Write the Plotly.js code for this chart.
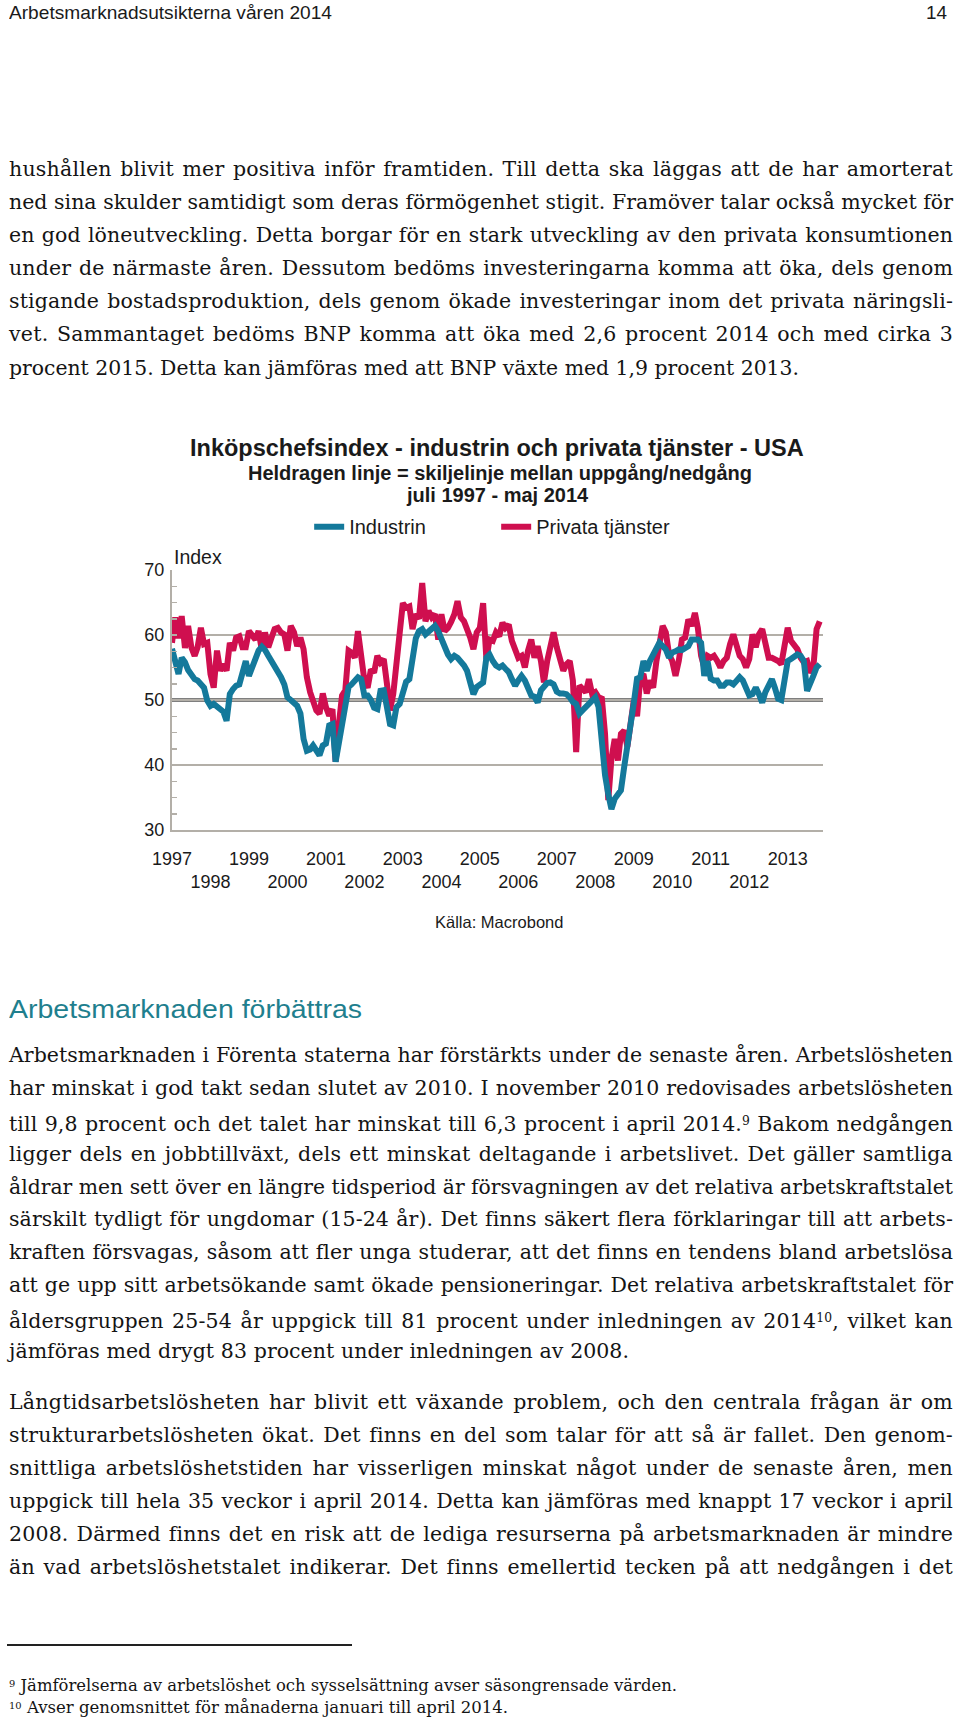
<!DOCTYPE html>
<html><head><meta charset="utf-8">
<script src="https://cdn.plot.ly/plotly-3.0.1.min.js"></script>
<style>
html,body{margin:0;padding:0;background:#fff}
body{width:960px;height:1717px;position:relative;overflow:hidden}
#chart{position:absolute;left:0;top:0;width:960px;height:1717px}
.ln{position:absolute;white-space:nowrap;color:#141414;transform-origin:0 50%;display:inline-block}
.sup{font-size:0.6em;vertical-align:0.45em}
#rule{position:absolute;left:7px;top:1644px;width:345px;height:1.5px;background:#222}
</style></head><body>
<div id="chart"></div>
<div id="txt"></div>
<div id="rule"></div>
<script>
// ---------------- chart data ----------------
const firstMonth = '1997-07';
const industrin = [
 57.9,56.0,54.0,56.5,55.8,54.6,
 53.8,53.2,53.0,52.5,51.9,49.9,49.1,49.4,49.0,48.6,48.2,46.8,
 50.9,51.7,52.2,52.4,54.0,56.0,53.7,55.0,56.8,57.6,58.2,57.7,
 56.8,56.0,55.0,54.2,53.5,52.4,50.4,50.0,49.6,49.1,47.9,44.0,
 42.2,42.4,43.0,42.3,41.5,43.0,43.3,46.1,46.3,40.5,43.5,47.0,
 49.5,52.0,52.4,53.0,53.5,53.2,50.7,50.7,50.0,48.8,48.6,51.4,
 51.5,48.8,46.3,46.1,48.9,49.4,51.5,52.8,53.2,56.3,59.5,60.6,
 60.9,60.1,60.6,60.9,61.4,60.6,59.3,58.1,57.0,56.3,56.8,56.5,
 56.0,55.3,54.5,52.8,50.9,52.0,52.5,52.7,56.5,57.0,56.0,55.3,
 55.0,55.3,54.8,54.3,53.2,52.2,53.0,53.7,53.0,51.8,50.7,50.5,
 49.6,51.5,52.2,52.6,52.7,52.4,51.3,51.0,51.0,50.9,50.4,49.7,
 49.4,47.9,48.4,48.9,49.1,49.6,50.4,48.9,43.3,38.5,35.5,33.2,
 34.8,35.5,36.1,39.7,42.5,45.5,49.5,53.3,53.5,56.0,54.5,56.0,
 57.0,57.5,58.8,58.3,57.8,56.5,57.3,57.5,57.8,57.7,58.0,58.3,
 59.3,59.3,59.3,58.8,53.7,56.0,53.3,53.0,53.0,52.2,52.2,52.7,
 52.7,52.4,53.0,53.5,53.0,51.7,50.7,50.9,51.9,50.9,49.6,51.2,
 52.2,53.2,51.9,50.2,50.0,53.0,56.0,56.3,56.8,57.0,56.8,56.0,
 51.4,53.0,53.7,55.0,55.5
];
const privataTjanster = [
 58.8,62.7,59.5,62.9,58.0,61.4,
 58.1,56.8,58.1,61.1,58.6,58.8,54.0,51.9,57.6,54.5,55.5,54.5,
 58.8,57.6,59.6,59.8,58.1,58.1,60.6,60.1,59.3,60.6,57.6,60.4,
 58.1,59.6,60.9,61.1,60.4,60.1,57.6,61.4,60.4,58.3,59.6,57.8,
 53.5,51.2,49.6,48.4,47.9,51.0,48.9,47.6,48.6,40.5,46.3,50.7,
 51.5,57.6,57.3,56.5,60.6,55.8,53.0,51.9,54.7,54.2,56.8,55.8,
 56.3,52.4,48.4,50.9,56.0,61.1,64.9,64.2,64.4,60.9,63.2,62.5,
 68.0,62.1,63.7,62.7,63.2,59.3,63.2,60.6,61.1,62.0,63.2,65.2,
 62.7,62.1,61.1,59.6,57.8,60.4,61.1,64.9,56.3,59.3,59.1,60.4,
 59.8,61.9,61.1,61.6,59.1,57.6,56.5,56.8,55.0,57.6,59.3,56.5,
 58.3,56.0,52.7,56.0,58.3,60.4,58.1,56.0,54.5,55.5,56.0,53.0,
 42.0,52.2,51.7,51.2,53.2,50.9,51.2,50.4,50.2,44.8,34.6,41.0,
 44.0,40.7,44.8,45.3,42.8,47.3,49.9,47.5,53.5,54.0,51.0,53.0,
 51.9,56.0,58.6,61.4,60.4,57.0,56.0,53.7,56.0,59.3,59.6,62.4,
 61.4,63.4,61.1,56.8,55.0,56.8,56.5,56.8,56.0,55.0,56.0,56.5,
 58.6,60.1,58.5,56.8,56.3,55.0,56.3,60.1,58.1,60.1,60.9,59.1,
 56.5,56.5,56.3,56.0,55.5,58.6,61.1,59.1,58.6,57.8,56.5,55.8,
 56.0,54.2,55.0,60.9,62.1
];
const tickYears = [1997,1998,1999,2000,2001,2002,2003,2004,2005,2006,2007,2008,2009,2010,2011,2012,2013];
const yTicks = [30,40,50,60,70];
const dividerLevel = 50;
const seriesNames = ['Industrin','Privata tjänster'];

// ---------------- page text ----------------
const headerText = 'Arbetsmarknadsutsikterna våren 2014';
const pageNumber = '14';
const para1 = [
 'hushållen blivit mer positiva inför framtiden. Till detta ska läggas att de har amorterat',
 'ned sina skulder samtidigt som deras förmögenhet stigit. Framöver talar också mycket för',
 'en god löneutveckling. Detta borgar för en stark utveckling av den privata konsumtionen',
 'under de närmaste åren. Dessutom bedöms investeringarna komma att öka, dels genom',
 'stigande bostadsproduktion, dels genom ökade investeringar inom det privata näringsli-',
 'vet. Sammantaget bedöms BNP komma att öka med 2,6 procent 2014 och med cirka 3',
 'procent 2015. Detta kan jämföras med att BNP växte med 1,9 procent 2013.'
];
const heading2 = 'Arbetsmarknaden förbättras';
const para2 = [
 'Arbetsmarknaden i Förenta staterna har förstärkts under de senaste åren. Arbetslösheten',
 'har minskat i god takt sedan slutet av 2010. I november 2010 redovisades arbetslösheten',
 'till 9,8 procent och det talet har minskat till 6,3 procent i april 2014.<span class="sup">9</span> Bakom nedgången',
 'ligger dels en jobbtillväxt, dels ett minskat deltagande i arbetslivet. Det gäller samtliga',
 'åldrar men sett över en längre tidsperiod är försvagningen av det relativa arbetskraftstalet',
 'särskilt tydligt för ungdomar (15-24 år). Det finns säkert flera förklaringar till att arbets-',
 'kraften försvagas, såsom att fler unga studerar, att det finns en tendens bland arbetslösa',
 'att ge upp sitt arbetsökande samt ökade pensioneringar. Det relativa arbetskraftstalet för',
 'åldersgruppen 25-54 år uppgick till 81 procent under inledningen av 2014<span class="sup">10</span>, vilket kan',
 'jämföras med drygt 83 procent under inledningen av 2008.'
];
const para3 = [
 'Långtidsarbetslösheten har blivit ett växande problem, och den centrala frågan är om',
 'strukturarbetslösheten ökat. Det finns en del som talar för att så är fallet. Den genom-',
 'snittliga arbetslöshetstiden har visserligen minskat något under de senaste åren, men',
 'uppgick till hela 35 veckor i april 2014. Detta kan jämföras med knappt 17 veckor i april',
 '2008. Därmed finns det en risk att de lediga resurserna på arbetsmarknaden är mindre',
 'än vad arbetslöshetstalet indikerar. Det finns emellertid tecken på att nedgången i det'
];
const footnotes = [
 '<span class="sup">9</span> Jämförelserna av arbetslöshet och sysselsättning avser säsongrensade värden.',
 '<span class="sup">10</span> Avser genomsnittet för månaderna januari till april 2014.'
];

// ---------------- build chart ----------------
const dates = industrin.map((_, i) => {
  const m = 6 + i;
  const y = 1997 + Math.floor(m / 12);
  return y + '-' + String(m % 12 + 1).padStart(2, '0') + '-01';
});
const PL = 171.7, PR = 823.3, PT = 569.5, PB = 830.5;
const W = 960, H = 1717;
const xp = px => (px - PL) / (PR - PL);
const yp = py => (PB - py) / (PB - PT);
const FONT = 'Liberation Sans, Arial, Helvetica, sans-serif';
const GRID = '#b3afa8';
const BLUE = '#14799b', RED = '#cf0f4f';

const traces = [
  {x: dates, y: privataTjanster, name: seriesNames[1], type: 'scatter', mode: 'lines',
   line: {color: RED, width: 6}, legendrank: 2, hoverinfo: 'skip'},
  {x: dates, y: industrin, name: seriesNames[0], type: 'scatter', mode: 'lines',
   line: {color: BLUE, width: 6}, legendrank: 1, hoverinfo: 'skip'}
];

const layout = {
  width: W, height: H,
  margin: {l: PL, r: W - PR, t: PT, b: H - PB, pad: 0},
  paper_bgcolor: '#ffffff', plot_bgcolor: '#ffffff',
  font: {family: FONT, color: '#1a1a1a', size: 18},
  showlegend: true,
  legend: {orientation: 'h', x: xp(309), y: yp(526), xanchor: 'left', yanchor: 'middle',
           font: {size: 20, family: FONT, color: '#1a1a1a'}, bgcolor: 'rgba(0,0,0,0)',
           traceorder: 'normal', entrywidth: 142, itemwidth: 30},
  xaxis: {type: 'date', range: ['1997-07-01', '2014-06-01'],
          tickmode: 'array',
          tickvals: tickYears.map(y => y + '-07-01'),
          ticktext: tickYears.map(y => (y % 2 === 0 ? '<br>' : '') + y),
          tickangle: 0, ticks: '', showgrid: false, zeroline: false,
          showline: true, linecolor: GRID, linewidth: 2,
          tickfont: {size: 18, family: FONT, color: '#1a1a1a'}, ticklabelstandoff: 11},
  yaxis: {range: [30, 70], tickmode: 'array', tickvals: yTicks, ticktext: yTicks.map(String),
          showgrid: true, gridcolor: GRID, gridwidth: 2, zeroline: false,
          showline: true, linecolor: GRID, linewidth: 2,
          ticks: 'inside', ticklen: 5, tickcolor: GRID, tickwidth: 1.5,
          minor: {dtick: 2.5, tick0: 30, ticks: 'inside', ticklen: 5, tickcolor: GRID, tickwidth: 1.5, showgrid: false},
          tickfont: {size: 18, family: FONT, color: '#1a1a1a'}, ticklabelstandoff: 2},
  shapes: [{type: 'line', xref: 'paper', x0: 0, x1: 1, yref: 'y', y0: dividerLevel, y1: dividerLevel,
            line: {color: '#000000', width: 3}, layer: 'below'}],
  annotations: [
    {text: 'Inköpschefsindex - industrin och privata tjänster - USA', xref: 'paper', yref: 'paper',
     x: xp(497), y: yp(447), xanchor: 'center', yanchor: 'middle', showarrow: false,
     font: {size: 23.5, family: FONT, weight: 'bold', color: '#1a1a1a'}},
    {text: 'Heldragen linje = skiljelinje mellan uppgång/nedgång', xref: 'paper', yref: 'paper',
     x: xp(500), y: yp(472), xanchor: 'center', yanchor: 'middle', showarrow: false,
     font: {size: 20, family: FONT, weight: 'bold', color: '#1a1a1a'}},
    {text: 'juli 1997 - maj 2014', xref: 'paper', yref: 'paper',
     x: xp(498), y: yp(494), xanchor: 'center', yanchor: 'middle', showarrow: false,
     font: {size: 20, family: FONT, weight: 'bold', color: '#1a1a1a'}},
    {text: 'Index', xref: 'paper', yref: 'paper', x: xp(172), y: yp(556),
     xanchor: 'left', yanchor: 'middle', showarrow: false,
     font: {size: 19.5, family: FONT, color: '#1a1a1a'}},
    {text: 'Källa: Macrobond', xref: 'paper', yref: 'paper', x: xp(499), y: yp(923),
     xanchor: 'center', yanchor: 'middle', showarrow: false,
     font: {size: 16.5, family: FONT, color: '#1a1a1a'}}
  ]
};

Plotly.newPlot('chart', traces, layout, {staticPlot: true, displayModeBar: false});

// ---------------- build text ----------------
const SERIF = '"DejaVu Serif", "Liberation Serif", serif';
const SANS = '"Liberation Sans Narrow", "Liberation Sans", Arial, sans-serif';
const items = [];
function add(html, left, cy, width, size, family, color, mode) {
  items.push({html, left, cy, width, size, family, color, mode});
}
const BODY = 20.5;
add(headerText, 9, 14, 323, 19, SANS, '#1a1a1a', 'scale');
add(pageNumber, 926, 15, 21, 18, SANS, '#1a1a1a', 'scale');
para1.forEach((t, i) => add(t, 9, 171 + i * 33.1, i === para1.length - 1 ? 790 : 944, BODY, SERIF, '#141414', 'just'));
add(heading2, 9, 1011, 353, 26, SANS, '#1f7f8e', 'scale');
para2.forEach((t, i) => add(t, 9, 1057 + i * 32.9, i === para2.length - 1 ? 620 : 944, BODY, SERIF, '#141414', 'just'));
para3.forEach((t, i) => add(t, 9, 1404 + i * 33.0, 944, BODY, SERIF, '#141414', 'just'));
add(footnotes[0], 9, 1685, 668, 16, SERIF, '#141414', 'scale');
add(footnotes[1], 9, 1707, 499, 16, SERIF, '#141414', 'scale');

const box = document.getElementById('txt');
const els = items.map(it => {
  const d = document.createElement('div');
  d.className = 'ln';
  d.innerHTML = it.html;
  d.style.left = it.left + 'px';
  d.style.fontFamily = it.family;
  d.style.fontSize = it.size + 'px';
  d.style.lineHeight = it.size + 'px';
  d.style.top = (it.cy - 0.59 * it.size) + 'px';
  d.style.color = it.color;
  box.appendChild(d);
  return d;
});
function fitAll() {
  els.forEach((d, k) => {
    const it = items[k];
    d.style.wordSpacing = '0px';
    d.style.letterSpacing = '0px';
    d.style.transform = 'none';
    const w = d.getBoundingClientRect().width;
    const txt = d.textContent;
    const n = (txt.match(/ /g) || []).length;
    const c = txt.length;
    if (it.mode === 'just' && w < it.width) {
      const extra = it.width - w;
      const ls = 0.45 * extra / c;
      d.style.letterSpacing = ls + 'px';
      const w2 = d.getBoundingClientRect().width;
      if (n > 0) d.style.wordSpacing = ((it.width - w2) / n) + 'px';
    } else if (Math.abs(w - it.width) > 0.5) {
      d.style.transform = 'scaleX(' + (it.width / w) + ')';
    }
  });
}
fitAll();
if (document.fonts && document.fonts.ready) document.fonts.ready.then(fitAll);
</script>
</body></html>
